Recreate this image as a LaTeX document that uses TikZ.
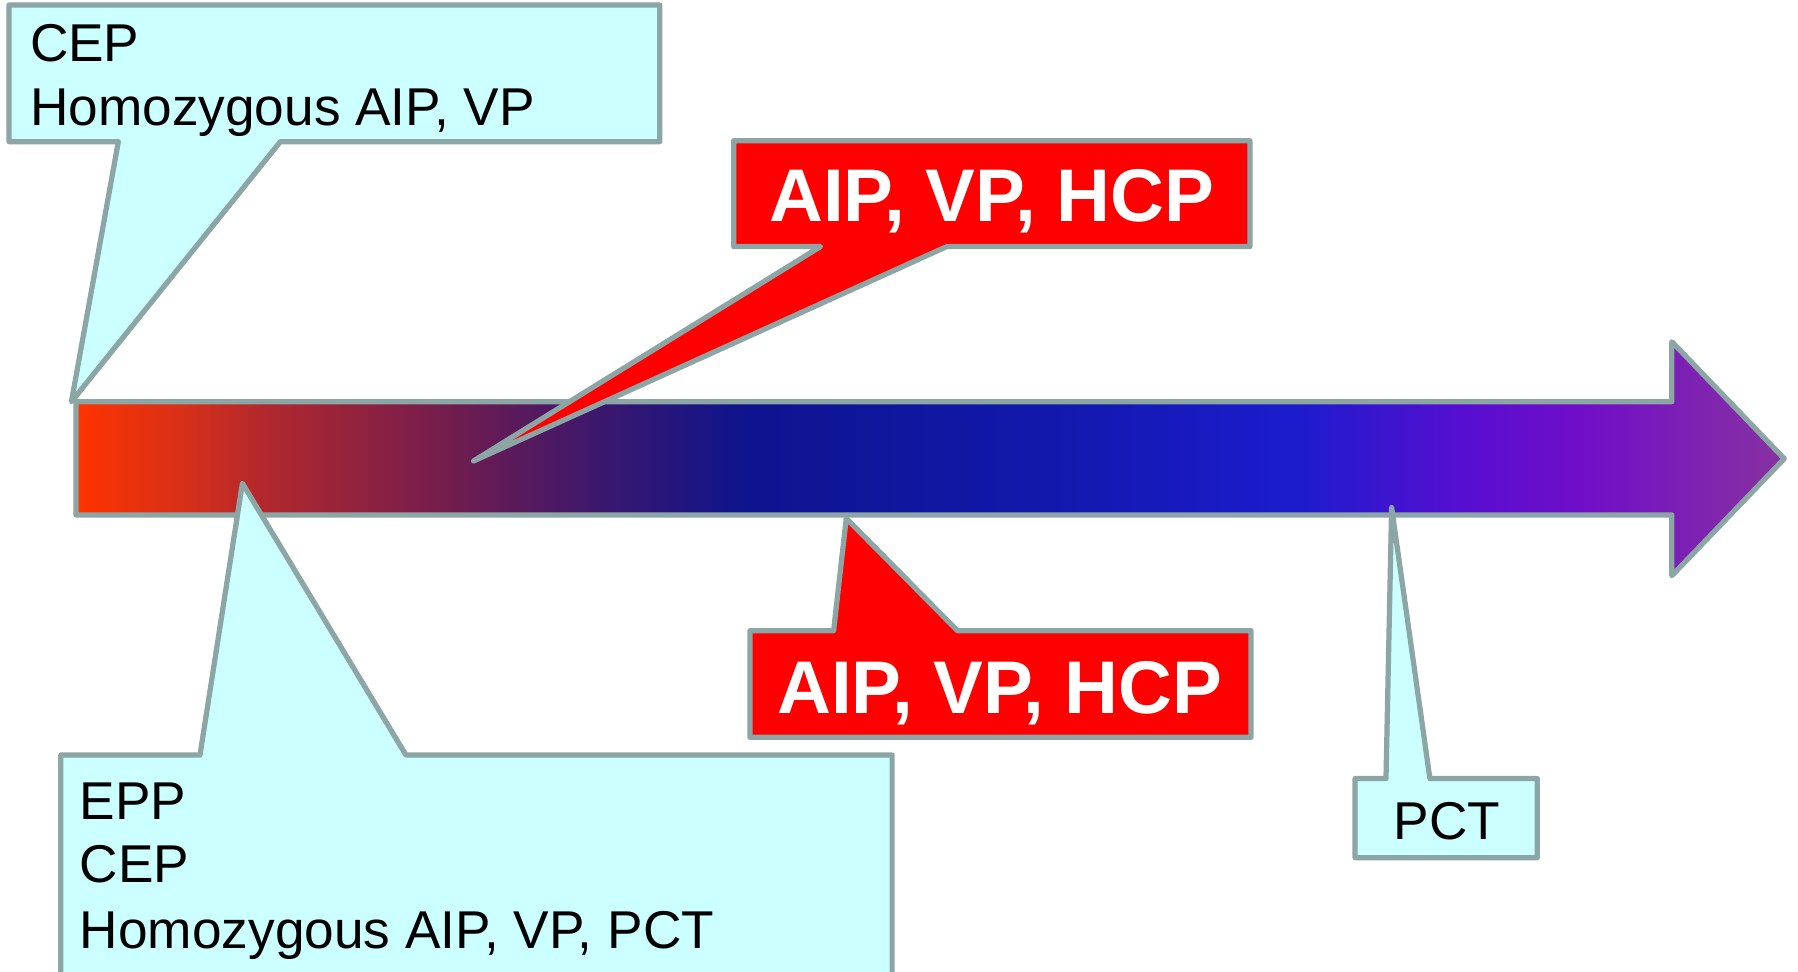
\documentclass[tikz,border=0pt]{standalone}
\usepackage{fontspec}
\setmainfont{Liberation Sans}
\newfontfamily\labelbold{Liberation Sans}

% colours of the timeline and the callouts
\definecolor{edgegray}{RGB}{140,165,165}
\definecolor{calloutcyan}{RGB}{204,255,255}
\definecolor{calloutred}{RGB}{255,0,0}
\definecolor{tlA}{RGB}{255,51,0}
\definecolor{tlB}{RGB}{215,48,25}
\definecolor{tlC}{RGB}{178,40,45}
\definecolor{tlD}{RGB}{110,28,80}
\definecolor{tlE}{RGB}{45,22,118}
\definecolor{tlF}{RGB}{14,20,142}
\definecolor{tlG}{RGB}{18,24,170}
\definecolor{tlH}{RGB}{28,28,205}
\definecolor{tlI}{RGB}{88,14,208}
\definecolor{tlJ}{RGB}{112,14,200}
\definecolor{tlK}{RGB}{135,50,160}

% left-to-right colour run of the timeline arrow (25bp..75bp spans the path)
\pgfdeclarehorizontalshading{timeline}{100bp}{%
  color(0bp)=(tlA); color(25bp)=(tlA); color(28.15bp)=(tlB);
  color(30.5bp)=(tlC); color(36.2bp)=(tlD); color(41.6bp)=(tlE);
  color(44.6bp)=(tlF); color(53bp)=(tlG); color(60.7bp)=(tlH);
  color(65.7bp)=(tlI); color(69.1bp)=(tlJ); color(75bp)=(tlK);
  color(100bp)=(tlK)}

\tikzset{
  outline/.style={draw=edgegray, line width=1.3pt, line join=round},
  cyanbox/.style={outline, fill=calloutcyan},
  redbox/.style={outline, fill=calloutred},
  plaintext/.style={inner sep=0pt, anchor=base west,
    font=\fontsize{13.2}{15}\selectfont},
  boldtext/.style={inner sep=0pt, anchor=base, text=white,
    font=\labelbold\bfseries\fontsize{18.5}{22}\selectfont},
}

\begin{document}
\begin{tikzpicture}[x=0.01cm, y=-0.01cm]
\useasboundingbox (0,0) rectangle (1568,847);
\clip (0,0) rectangle (1568,847);

% timeline arrow
\draw[outline, shade, shading=timeline]
  (66.2,350.3) -- (1458,350.3) -- (1458,298) -- (1556,400)
  -- (1458,502) -- (1458,449) -- (66.2,449) -- cycle;

% upper left callout
\draw[cyanbox]
  (7.8,4.4) -- (575.4,4.4) -- (575.4,123.5) -- (244.5,123.5)
  -- (62.3,350.3) -- (103.2,123.5) -- (7.8,123.5) -- cycle;
\node[plaintext] (cepTop) at (25.5,53.2) {CEP};
\node[plaintext] (homTop) at (25.5,109) {Homozygous AIP, VP};

% upper red callout
\draw[redbox]
  (639.8,122.7) -- (1090,122.7) -- (1090,215) -- (825.7,215)
  -- (413,402) -- (715.6,215) -- (639.8,215) -- cycle;
\node[boldtext] (hcpTop) at (865,193.3) {AIP, VP, HCP};

% lower left callout
\draw[cyanbox]
  (53,658.4) -- (174.4,658.4) -- (211.4,421.5) -- (354,658.4)
  -- (778,658.4) -- (778,855) -- (53,855) -- cycle;
\node[plaintext] (eppLow) at (69,715) {EPP};
\node[plaintext] (cepLow) at (69,770) {CEP};
\node[plaintext] (homLow) at (69,827) {Homozygous AIP, VP, PCT};

% lower red callout
\draw[redbox]
  (654,550) -- (727,550) -- (738,452) -- (835,550)
  -- (1091,550) -- (1091,643) -- (654,643) -- cycle;
\node[boldtext] (hcpLow) at (872,622) {AIP, VP, HCP};

% PCT callout
\draw[cyanbox]
  (1181.7,679) -- (1208.7,679) -- (1213.6,442.6) -- (1247,679)
  -- (1340.6,679) -- (1340.6,748) -- (1181.7,748) -- cycle;
\node[plaintext, anchor=base] (pct) at (1262,732.5) {PCT};
\end{tikzpicture}
\end{document}
